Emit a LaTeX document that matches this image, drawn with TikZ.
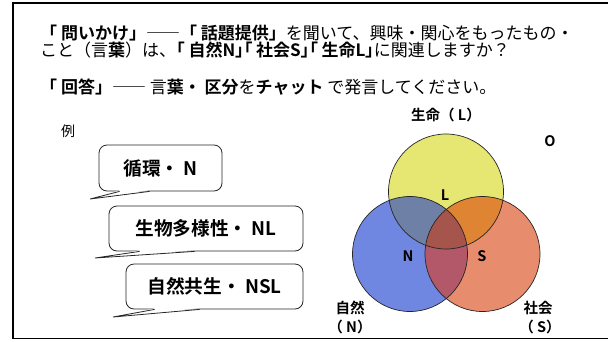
\documentclass[tikz,border=0pt]{standalone}
\usepackage{fontspec}
\setmainfont{Noto Sans CJK JP}[BoldFont={Noto Sans CJK JP Bold}]
\newfontfamily\palfont{Noto Sans CJK JP}[BoldFont={Noto Sans CJK JP Bold},RawFeature=+palt]
\usetikzlibrary{calc}
\definecolor{cY}{RGB}{230,230,115}
\definecolor{cB}{RGB}{112,135,225}
\definecolor{cO}{RGB}{232,140,110}
\definecolor{cYB}{RGB}{110,128,165}
\definecolor{cYO}{RGB}{222,132,50}
\definecolor{cBO}{RGB}{178,88,105}
\definecolor{cYBO}{RGB}{165,85,75}
\tikzset{
  bubble/.style={draw=black!85, line width=0.8pt, rounded corners=8pt, fill=white, inner sep=0pt, font=\fontsize{18.7}{20}\selectfont\bfseries},
  tailline/.style={draw=black!85, line width=0.8pt},
  headtext/.style={anchor=west, inner sep=0pt, font=\fontsize{17}{18}\selectfont},
  lbl/.style={inner sep=0pt, font=\fontsize{14.5}{16}\selectfont\bfseries},
  ring/.style={draw=black!85, line width=0.7pt},
}
\begin{document}
\begin{tikzpicture}[x=1pt,y=-1pt]
\useasboundingbox (0,0) rectangle (608,341);
\clip (0,0) rectangle (608,341);
% frame
\draw[line width=1.5pt] (612,2.75) -- (12.75,2.75) -- (12.75,338.5) -- (612,338.5);
% header text
\node[headtext] (t1) at (40,33) {\textbf{「 問いかけ」}――\textbf{「 話題提供」}を聞いて、興味・関心をもったもの・};
\node[headtext] (t2) at (40,50) {こと（言\textbf{葉}）は、{\palfont\bfseries 「 自然N」「 社会S」「 生命L」}に関連しますか？};
\node[headtext] (t3) at (40,87) {\textbf{「 回答」}―― 言\textbf{葉・ 区分}を\textbf{チャット} で発言してください。};
\node[inner sep=0pt, font=\fontsize{14}{16}\selectfont] (rei) at (68,131) {例};
% bubbles
\node[bubble, minimum width=123pt, minimum height=46pt] (b1) at (160.5,168) {循環・ N};
\node[bubble, minimum width=194pt, minimum height=45pt] (b2) at (206,228.5) {生物多様性・ NL};
\node[bubble, minimum width=177pt, minimum height=45pt] (b3) at (214.5,286.5) {自然共生・ NSL};
\coordinate (tip1) at (90,199);
\coordinate (tip2) at (95,258);
\coordinate (tip3) at (113,317);
\foreach \b/\t/\p/\q in {b1/tip1/21/51, b2/tip2/31/86, b3/tip3/29/74}{
  \fill[white] ($(\b.south west)+(\p+0.6,-1.2)$) -- (\t) -- ($(\b.south west)+(\q-0.6,-1.2)$) -- cycle;
  \draw[tailline] ($(\b.south west)+(\p,0)$) -- (\t) -- ($(\b.south west)+(\q,0)$);
}
% venn
\coordinate (cl) at (446,191.5);
\coordinate (cn) at (410,254);
\coordinate (cs) at (482.5,254);
\def\R{57.5}
\fill[cY] (cl) circle (\R);
\fill[cB] (cn) circle (\R);
\fill[cO] (cs) circle (\R);
\begin{scope}\clip (cl) circle (\R); \fill[cYB] (cn) circle (\R); \end{scope}
\begin{scope}\clip (cl) circle (\R); \fill[cYO] (cs) circle (\R); \end{scope}
\begin{scope}\clip (cn) circle (\R); \fill[cBO] (cs) circle (\R); \end{scope}
\begin{scope}\clip (cl) circle (\R); \clip (cn) circle (\R); \fill[cYBO] (cs) circle (\R); \end{scope}
\draw[ring] (cl) circle (\R);
\draw[ring] (cn) circle (\R);
\draw[ring] (cs) circle (\R);
\node[lbl] (lL) at (445,195) {L};
\node[lbl] (lN) at (408,256) {N};
\node[lbl] (lS) at (482,256) {S};
\node[lbl] (hL) at (446,115) {生命（ L）};
\node[lbl] (hO) at (550,141) {O};
\node[lbl] (hN1) at (350,308) {自然};
\node[lbl] (hN2) at (350,327) {（ N）};
\node[lbl] (hS1) at (538,308) {社会};
\node[lbl] (hS2) at (540,327) {（ S）};
\end{tikzpicture}
\end{document}
